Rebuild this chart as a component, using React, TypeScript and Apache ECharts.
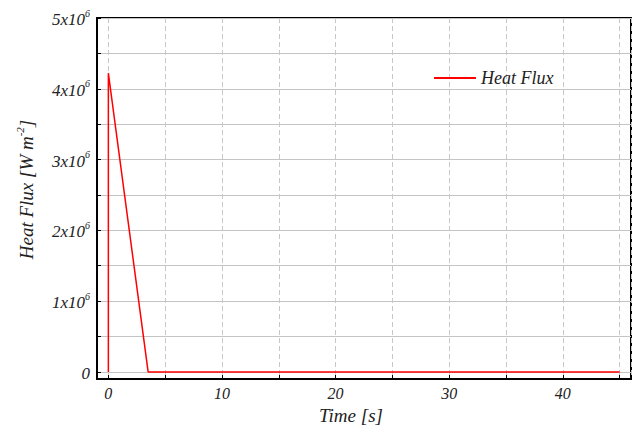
import React, { useEffect, useRef } from "react";
import * as echarts from "echarts";

const timeValues = [0, 0, 3.5, 45];
const heatFluxValues = [0, 4.22e6, 0, 0];
const seriesName = "Heat Flux";
const xTitle = "Time [s]";

const FONT = "Times New Roman, Liberation Serif, DejaVu Serif, serif";

export default function App() {
  const ref = useRef<HTMLDivElement>(null);
  useEffect(() => {
    if (!ref.current) return;
    const chart = echarts.init(ref.current, undefined, { renderer: "svg" });
    const data = timeValues.map((t, i) => [t, heatFluxValues[i]]);
    chart.setOption({
      animation: false,
      textStyle: { fontFamily: FONT },
      grid: {
        left: 97,
        top: 18,
        right: 2,
        bottom: 48,
        outerBoundsMode: "none",
        containLabel: false,
        show: true,
        borderColor: "#000",
        borderWidth: 2,
        backgroundColor: "transparent",
      },
      legend: {
        show: true,
        left: 429,
        top: 64,
        itemWidth: 42,
        itemHeight: 2,
        icon: "rect",
        itemGap: 4,
        textStyle: {
          fontFamily: FONT,
          fontStyle: "italic",
          fontSize: 18,
          color: "#222",
        },
        data: [seriesName],
      },
      xAxis: {
        type: "value",
        min: -1,
        max: 46,
        splitNumber: 9,
        minInterval: 5,
        maxInterval: 5,
        name: xTitle,
        nameLocation: "middle",
        nameGap: 23,
        nameTextStyle: {
          fontFamily: FONT,
          fontStyle: "italic",
          fontSize: 19,
          color: "#222",
          padding: [0, 26, 0, 0],
        },
        axisLine: { show: true, onZero: false, lineStyle: { color: "#000", width: 2 } },
        axisTick: { show: true, inside: true, length: 4, lineStyle: { color: "#000" } },
        axisLabel: {
          fontFamily: FONT,
          fontStyle: "italic",
          fontSize: 16,
          color: "#222",
          margin: 6,
          formatter: (v: number) => (Math.abs(v % 10) < 1e-9 && v >= 0 && v <= 45 ? String(v) : ""),
        },
        splitLine: {
          show: true,
          lineStyle: { color: "#c8c8c8", type: [5, 3], width: 1 },
        },
      },
      yAxis: {
        type: "value",
        min: -100000,
        max: 5000000,
        splitNumber: 10,
        minInterval: 500000,
        maxInterval: 500000,
        name: "{n|Heat Flux [W m}{s|-2}{n|]}",
        nameLocation: "middle",
        nameGap: 61,
        nameRotate: 90,
        nameTextStyle: {
          fontFamily: FONT,
          fontStyle: "italic",
          color: "#222",
          padding: [0, 0, 0, 18],
          rich: {
            n: { fontFamily: FONT, fontStyle: "italic", fontSize: 19, color: "#222", lineHeight: 22, verticalAlign: "bottom" },
            s: { fontFamily: FONT, fontStyle: "italic", fontSize: 11, color: "#222", lineHeight: 22, verticalAlign: "top", padding: [0, 0, 10, 0] },
          },
        },
        axisLine: { show: true, onZero: false, lineStyle: { color: "#000", width: 2 } },
        axisTick: { show: true, inside: true, length: 4, lineStyle: { color: "#000" } },
        axisLabel: {
          margin: 7,
          fontFamily: FONT,
          fontStyle: "italic",
          formatter: (v: number) => {
            if (v < 0) return "";
            const n = v / 1e6;
            if (Math.abs(n - Math.round(n)) > 1e-9) return "";
            if (n === 0) return "{b|0}";
            return `{b|${Math.round(n)}x10}{s|6}`;
          },
          rich: {
            b: { fontFamily: FONT, fontStyle: "italic", fontSize: 17, color: "#222", lineHeight: 20, verticalAlign: "bottom" },
            s: { fontFamily: FONT, fontStyle: "italic", fontSize: 10, color: "#222", lineHeight: 20, verticalAlign: "top", padding: [0, 0, 9, 0] },
          },
        },
        splitLine: {
          show: true,
          lineStyle: { color: "#c4c4c4", type: "solid", width: 1 },
        },
      },
      series: [
        {
          name: seriesName,
          type: "line",
          data,
          showSymbol: false,
          symbol: "none",
          lineStyle: { color: "#ff0000", width: 1.5 },
          itemStyle: { color: "#ff0000" },
        },
      ],
    });
    return () => chart.dispose();
  }, []);
  return <div ref={ref} style={{ width: 633, height: 427, position: "absolute", left: 0, top: 0, background: "#fff" }} />;
}
